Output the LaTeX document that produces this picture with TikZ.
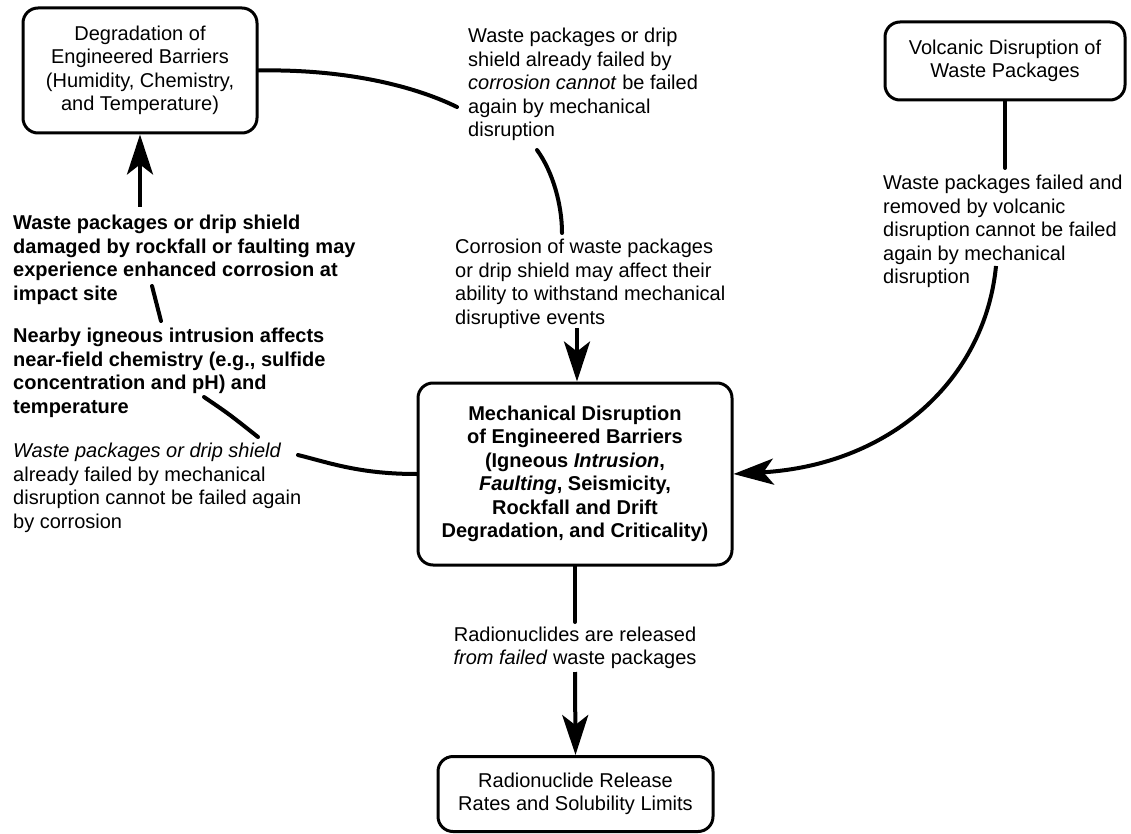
\documentclass[tikz,border=0pt]{standalone}
\usepackage{fontspec}
\setmainfont{Liberation Sans}
\usetikzlibrary{arrows.meta}
\begin{document}
\begin{tikzpicture}[x=1pt,y=-1pt,
  txt/.style={font=\fontsize{20}{23.5}\selectfont},
  txtb/.style={font=\fontsize{20}{23.5}\selectfont\bfseries},
  box/.style={txt, draw, line width=3pt, rounded corners=15pt, align=center, inner sep=0pt},
  note/.style={txt, align=left, anchor=north west, inner sep=0pt},
  boldnote/.style={note, txtb},
  link/.style={line width=4pt, line cap=round},
  arr/.style={line width=4pt, -{Stealth[length=40pt,width=26pt,inset=10pt]}}]
\useasboundingbox (0,0) rectangle (1131,834);

% process boxes
\node[box, minimum width=234pt, minimum height=125pt] (deg) at (140,70.5)
  {Degradation of\\Engineered Barriers\\(Humidity, Chemistry,\\and Temperature)};
\node[box, txtb, minimum width=314pt, minimum height=182pt] (mech) at (575,474)
  {Mechanical Disruption\\of Engineered Barriers\\(Igneous \textit{Intrusion},\\\textit{Faulting}, Seismicity,\\Rockfall and Drift\\Degradation, and Criticality)};
\node[box, minimum width=240pt, minimum height=78pt] (volc) at (1005,61)
  {Volcanic Disruption of\\Waste Packages};
\node[box, minimum width=275pt, minimum height=75pt] (rel) at (575.5,794)
  {Radionuclide Release\\Rates and Solubility Limits};

% explanatory notes
\node[note] (nA) at (468,28)
  {Waste packages or drip\\shield already failed by\\\textit{corrosion cannot} be failed\\again by mechanical\\disruption};
\node[note] (nB) at (455,239)
  {Corrosion of waste packages\\or drip shield may affect their\\ability to withstand mechanical\\disruptive events};
\node[note] (nC) at (883,175)
  {Waste packages failed and\\removed by volcanic\\disruption cannot be failed\\again by mechanical\\disruption};
\node[boldnote] (nD) at (13,215)
  {Waste packages or drip shield\\damaged by rockfall or faulting may\\experience enhanced corrosion at\\impact site};
\node[boldnote] (nE) at (13,328)
  {Nearby igneous intrusion affects\\near-field chemistry (e.g., sulfide\\concentration and pH) and\\temperature};
\node[note] (nF) at (13,443)
  {\textit{Waste packages or drip shield}\\already failed by mechanical\\disruption cannot be failed again\\by corrosion};
\node[txt, align=center, inner sep=0pt] (nG) at (575,648)
  {Radionuclides are released\\\textit{from failed} waste packages};

% connector end points next to the notes
\coordinate (dTop) at (140,207);
\coordinate (dLow) at (152,286);
\coordinate (eTop) at (161,321);
\coordinate (eLow) at (204,397);
\coordinate (fTop) at (258,437);
\coordinate (fEnd) at (298,455);
\coordinate (aIn)  at (457,107);
\coordinate (aLow) at (537,150);
\coordinate (bTop) at (562,233);
\coordinate (bLow) at (577,328);
\coordinate (cTop) at (1005,168);
\coordinate (cLow) at (996,266);
\coordinate (gTop) at (575,622);
\coordinate (gLow) at (575,672);

% connectors
\draw[arr] (dTop) -- (deg.south);
\draw[link] (dLow) -- (eTop);
\draw[link] (eLow) .. controls (229,414) .. (fTop);
\draw[link] (fEnd) .. controls (330,463) and (360,474) .. (mech.west);
\draw[link] (deg.east) .. controls (340,69) and (410,84) .. (aIn);
\draw[link] (aLow) .. controls (553,172) and (562,205) .. (bTop);
\draw[arr] (bLow) -- (bLow |- mech.north);
\draw[link] (volc.south) -- (cTop);
\draw[arr] (cLow) .. controls (985,380) and (890,465) .. (mech.east);
\draw[link] (mech.south) -- (gTop);
\draw[arr] (gLow) -- (rel.north);
\end{tikzpicture}
\end{document}
